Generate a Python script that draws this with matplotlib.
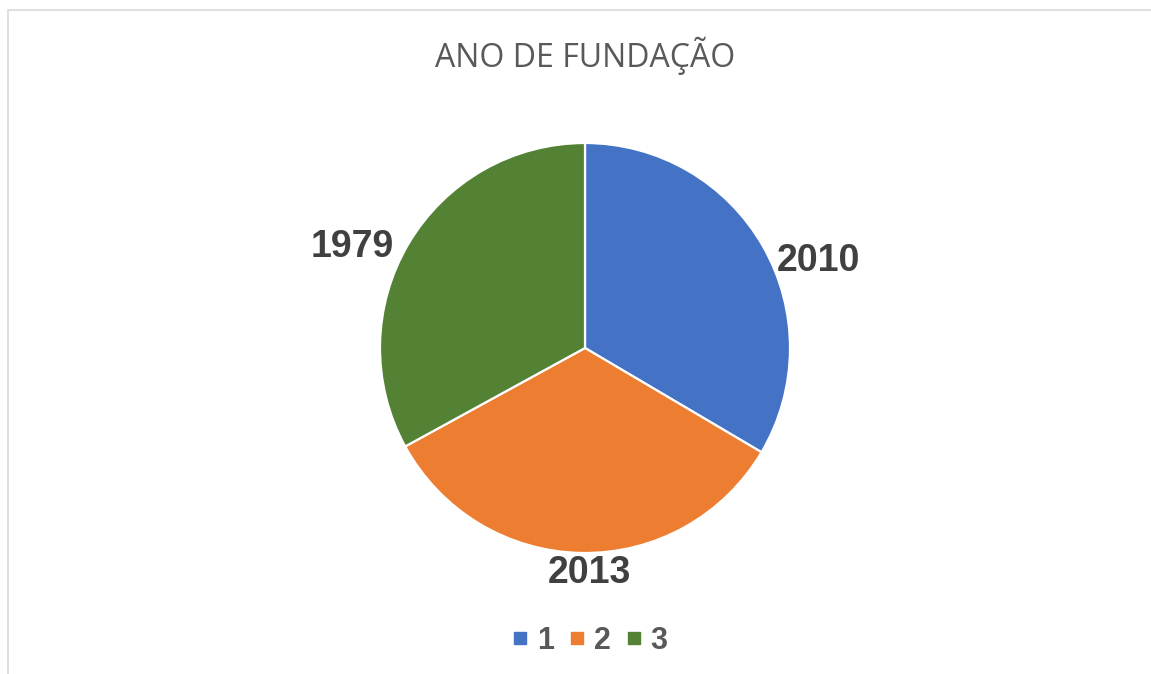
import matplotlib.pyplot as plt
from matplotlib.patches import Rectangle
from matplotlib.lines import Line2D

categories = ["1", "2", "3"]
values = [2010, 2013, 1979]
colors = ["#4472C4", "#ED7D31", "#548235"]
title = "ANO DE FUNDAÇÃO"

W, H = 1151, 674
fig = plt.figure(figsize=(W / 100, H / 100), dpi=100)

# chart frame
fig.patches.append(Rectangle((8 / W, -0.1), 1.2, 1 - 10 / H + 0.1, transform=fig.transFigure,
                             fill=False, edgecolor="#D9D9D9", linewidth=1.2))

cx, cy, r = 585, 348, 205
ax = fig.add_axes([(cx - r) / W, 1 - (cy + r) / H, 2 * r / W, 2 * r / H])
wedges, _ = ax.pie(values, colors=colors, startangle=90, counterclock=False,
                   radius=1, wedgeprops=dict(edgecolor="white", linewidth=1.6))
ax.set_xlim(-1, 1)
ax.set_ylim(-1, 1)
ax.set_aspect("equal")
ax.axis("off")

# data labels (positions in pixel layout)
label_pos = [(818, 261), (589, 573), (352, 247)]
for (px, py), v in zip(label_pos, values):
    fig.text(px / W, 1 - py / H, str(v), ha="center", va="center",
             fontsize=27, fontweight="bold", color="#404040", family="Liberation Sans")

fig.text(585 / W, 1 - 56 / H, title, ha="center", va="center", fontsize=23,
         color="#595959", family="Open Sans")

handles = [Line2D([], [], marker="s", linestyle="none", markersize=8,
                  markerfacecolor=c, markeredgecolor=c) for c in colors]
leg = fig.legend(handles, categories, loc="center", bbox_to_anchor=(590 / W, 1 - 641 / H),
                 ncol=3, frameon=False, handlelength=0.5, handletextpad=0.3,
                 columnspacing=0.5, prop=dict(family="Liberation Sans", weight="bold", size=22))
for t in leg.get_texts():
    t.set_color("#595959")

fig.savefig("out.png", dpi=100, facecolor="white")
